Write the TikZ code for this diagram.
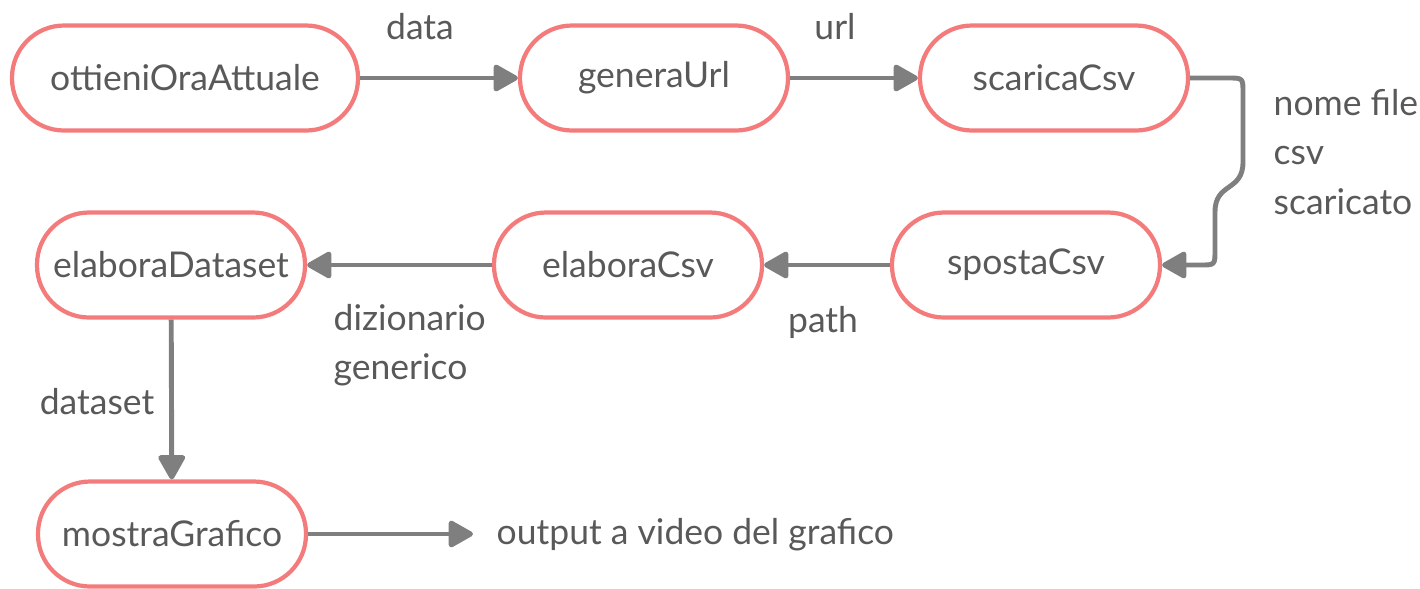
\documentclass[tikz,border=0pt]{standalone}
\usepackage{fontspec}
\setmainfont{Lato}
\usetikzlibrary{arrows.meta}
\definecolor{boxred}{HTML}{F47B7B}
\definecolor{flowgrey}{HTML}{7F7F7F}
\definecolor{txtgrey}{HTML}{595959}
\tikzset{
    funz/.style={draw=boxred, line width=1.2pt, rounded corners=5.2mm, minimum width=2.68cm, minimum height=1.05cm, text=txtgrey, font=\fontsize{10.1pt}{14pt}\selectfont},
    etich/.style={text=txtgrey, font=\fontsize{10.1pt}{14pt}\selectfont, inner sep=0pt, align=left},
    freccia/.style={draw=flowgrey, line width=1.4pt, -{Triangle[length=2.7mm, width=2.9mm, round]}}
}
\begin{document}
\begin{tikzpicture}
    \useasboundingbox (0,0) rectangle (14.2,-5.88);
    \node[funz, minimum width=3.46cm] (ottieni) at (1.85,-0.78) {ottieniOraAttuale};
    \node[funz] (genera) at (6.54,-0.78) {generaUrl};
    \node[funz] (scarica) at (10.54,-0.78) {scaricaCsv};
    \node[funz] (sposta) at (10.26,-2.65) {spostaCsv};
    \node[funz] (elabcsv) at (6.28,-2.65) {elaboraCsv};
    \node[funz] (elabdata) at (1.71,-2.65) {elaboraDataset};
    \node[funz] (mostra) at (1.72,-5.34) {mostraGrafico};
    \coordinate (fine) at (4.73,-5.34);
    \draw[freccia] (ottieni) -- (genera);
    \node[etich] (ldata) at (4.2,-0.27) {data};
    \draw[freccia] (genera) -- (scarica);
    \node[etich] (lurl) at (8.35,-0.27) {url};
    \draw[freccia] (scarica.east) -- (12.28,-0.78) .. controls (12.43,-0.78) .. (12.43,-0.93) -- (12.43,-1.62)
        .. controls (12.43,-1.92) and (12.15,-1.82) .. (12.15,-2.12) -- (12.15,-2.50)
        .. controls (12.15,-2.65) .. (12.00,-2.65) -- (sposta.east);
    \node[etich, anchor=west] (lnome) at (12.73,-1.52) {nome file\\csv\\scaricato};
    \draw[freccia] (sposta) -- (elabcsv);
    \node[etich] (lpath) at (8.23,-3.22) {path};
    \draw[freccia] (elabcsv) -- (elabdata);
    \node[etich, anchor=west] (ldiz) at (3.33,-3.45) {dizionario\\generico};
    \draw[freccia] (elabdata) -- (mostra);
    \node[etich] (ldataset) at (0.97,-4.02) {dataset};
    \draw[freccia] (mostra) -- (fine);
    \node[etich, anchor=west] (loutput) at (4.96,-5.35) {output a video del grafico};
\end{tikzpicture}
\end{document}
